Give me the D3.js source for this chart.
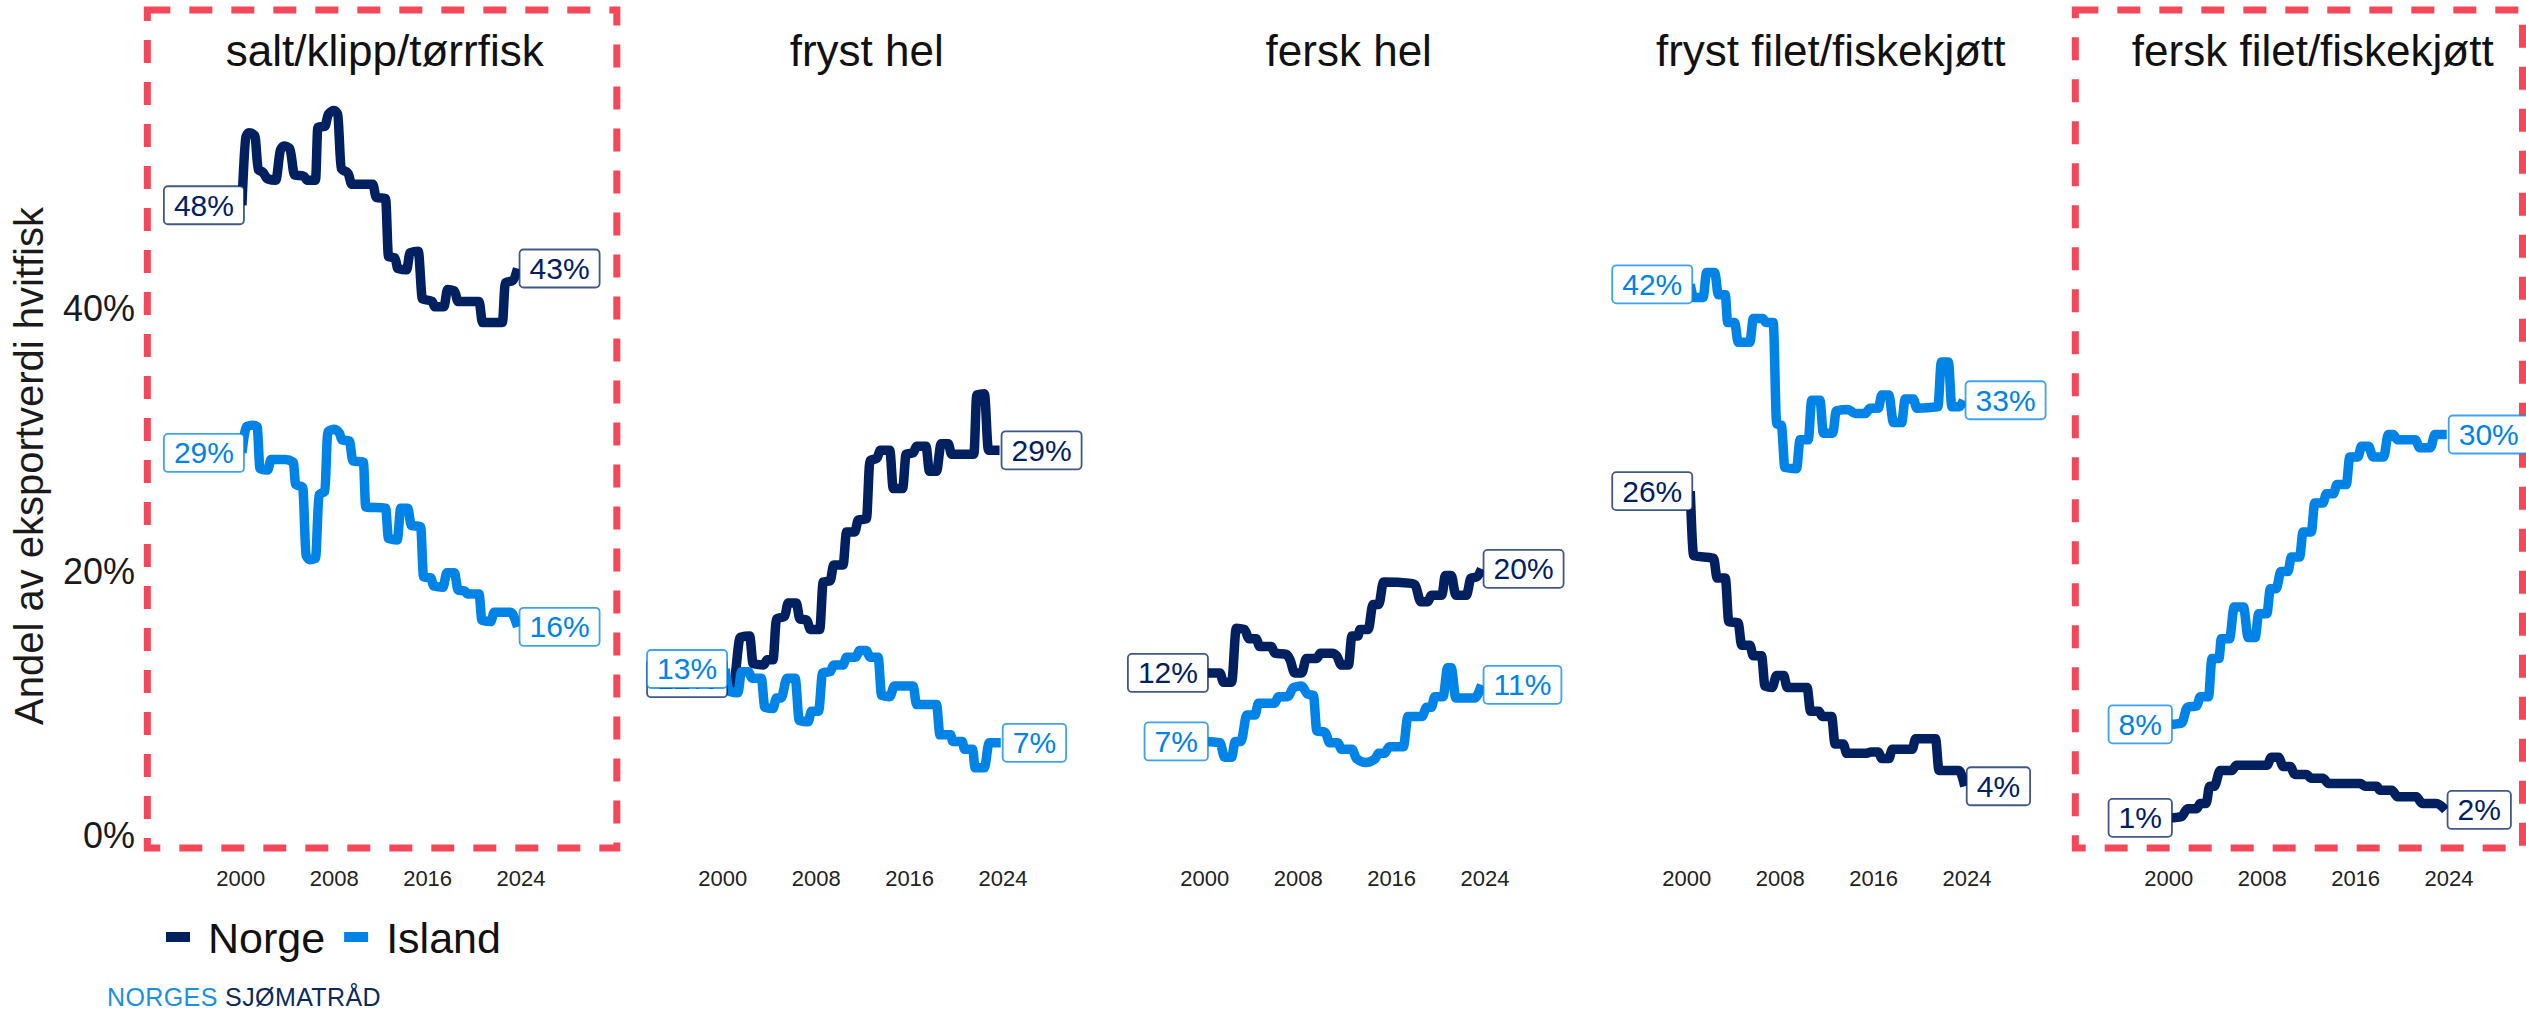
<!DOCTYPE html>
<html>
<head>
<meta charset="utf-8">
<script src="https://cdn.jsdelivr.net/npm/d3@7"></script>
<style>
  body { margin: 0; background: #ffffff; }
  svg { display: block; font-family: "Liberation Sans", Arial, "DejaVu Sans", sans-serif; }
</style>
</head>
<body>
<svg id="chart" width="2526" height="1012"></svg>
<script>
// ---------------- DATA ----------------
const panelTitles = ["salt/klipp/tørrfisk", "fryst hel", "fersk hel", "fryst filet/fiskekjøtt", "fersk filet/fiskekjøtt"];
const highlightedPanels = [true, false, false, false, true];
const seriesNames = ["Norge", "Island"];
const xTickYears = [2000, 2008, 2016, 2024];
const yTickValues = [0, 20, 40];
const yAxisTitle = "Andel av eksportverdi hvitfisk";

// [year, share %]
const saltNorge = [[2000.1,47.8],[2000.45,53.0],[2000.7,53.3],[2001.2,53.1],[2001.5,50.5],[2001.9,50.3],[2002.3,49.8],[2003.0,49.7],[2003.4,52.0],[2003.7,52.3],[2004.2,52.1],[2004.6,50.1],[2005.4,50.0],[2005.7,49.7],[2006.4,49.7],[2006.6,53.7],[2007.2,53.8],[2007.5,54.7],[2008.0,55.0],[2008.3,54.7],[2008.6,50.6],[2009.2,50.2],[2009.5,49.4],[2011.3,49.4],[2011.6,48.4],[2012.4,48.3],[2012.65,43.9],[2013.2,43.8],[2013.45,43.0],[2014.2,42.9],[2014.5,44.2],[2015.2,44.3],[2015.55,40.7],[2016.4,40.5],[2016.6,40.1],[2017.4,40.1],[2017.7,41.4],[2018.3,41.3],[2018.6,40.5],[2020.4,40.5],[2020.7,38.9],[2022.4,38.9],[2022.65,41.9],[2023.3,42.1],[2023.7,43.0]];
const saltIsland = [[2000.1,29.0],[2000.5,31.0],[2001.0,31.1],[2001.4,31.0],[2001.65,27.8],[2002.3,27.7],[2002.6,28.5],[2003.8,28.5],[2004.5,28.3],[2004.7,26.6],[2005.3,26.4],[2005.6,21.2],[2005.9,20.9],[2006.4,21.0],[2006.7,25.8],[2007.2,26.1],[2007.45,30.6],[2008.0,30.8],[2008.45,30.5],[2008.65,30.0],[2009.3,29.9],[2009.6,28.4],[2010.5,28.3],[2010.7,24.9],[2012.4,24.8],[2012.65,22.5],[2013.4,22.4],[2013.7,24.8],[2014.3,24.8],[2014.6,23.5],[2015.4,23.4],[2015.65,19.6],[2016.3,19.5],[2016.5,18.9],[2017.3,18.8],[2017.65,19.9],[2018.3,19.9],[2018.6,18.6],[2019.2,18.5],[2019.4,18.3],[2020.4,18.3],[2020.65,16.3],[2021.4,16.2],[2021.7,16.9],[2023.1,16.9],[2023.7,15.8]];

const frystHelNorge = [[2000.2,11.9],[2000.5,11.4],[2000.9,11.4],[2001.5,15.0],[2002.3,15.1],[2002.6,13.0],[2003.5,12.9],[2003.8,13.3],[2004.3,13.3],[2004.6,16.4],[2005.3,16.6],[2005.6,17.6],[2006.3,17.6],[2006.6,16.4],[2007.2,16.3],[2007.5,15.6],[2008.3,15.6],[2008.6,19.2],[2009.2,19.3],[2009.5,20.5],[2010.3,20.5],[2010.6,23.0],[2011.3,23.0],[2011.6,23.9],[2012.3,24.0],[2012.6,28.4],[2013.2,28.6],[2013.5,29.2],[2014.3,29.2],[2014.6,26.3],[2015.4,26.3],[2015.7,28.9],[2016.3,29.0],[2016.6,29.5],[2017.4,29.5],[2017.7,27.6],[2018.3,27.6],[2018.7,29.7],[2019.3,29.7],[2019.6,28.9],[2021.5,28.9],[2021.75,33.4],[2022.4,33.5],[2022.75,29.2],[2023.7,29.2]];
const frystHelIsland = [[2000.2,12.6],[2000.6,10.9],[2001.3,10.8],[2001.6,12.4],[2002.2,12.4],[2002.5,11.9],[2003.3,11.9],[2003.6,9.7],[2004.3,9.6],[2004.6,10.4],[2005.0,10.4],[2005.5,11.9],[2006.2,11.9],[2006.55,8.7],[2007.3,8.6],[2007.6,9.4],[2008.2,9.4],[2008.55,12.3],[2009.2,12.4],[2009.5,12.9],[2010.3,12.9],[2010.6,13.5],[2011.4,13.5],[2011.7,14.0],[2012.3,14.0],[2012.6,13.5],[2013.3,13.5],[2013.6,10.6],[2014.3,10.5],[2014.7,11.3],[2016.3,11.3],[2016.6,9.9],[2018.3,9.9],[2018.6,7.6],[2019.5,7.6],[2019.7,7.1],[2020.5,7.1],[2020.7,6.5],[2021.4,6.5],[2021.6,5.1],[2022.4,5.1],[2022.8,7.0],[2023.8,7.0]];

const ferskHelNorge = [[2000.1,12.3],[2001.3,12.3],[2001.6,11.6],[2002.3,11.6],[2002.7,15.7],[2003.4,15.6],[2003.8,14.9],[2004.4,14.9],[2004.7,14.3],[2005.7,14.3],[2006.0,13.8],[2007.0,13.7],[2007.3,13.3],[2007.7,12.3],[2008.3,12.3],[2008.7,13.4],[2009.6,13.4],[2009.9,13.8],[2010.9,13.8],[2011.3,13.6],[2011.7,12.9],[2012.3,12.9],[2012.6,15.1],[2013.1,15.1],[2013.3,15.6],[2014.0,15.6],[2014.4,17.5],[2014.9,17.5],[2015.3,19.2],[2017.7,19.1],[2018.0,19.0],[2018.5,17.7],[2019.1,17.7],[2019.4,18.2],[2020.3,18.2],[2020.6,19.7],[2021.1,19.7],[2021.5,18.2],[2022.4,18.2],[2022.8,19.5],[2023.3,19.6],[2023.7,20.2]];
const ferskHelIsland = [[2000.1,7.1],[2001.3,7.0],[2001.7,5.9],[2002.3,5.9],[2002.6,7.1],[2003.1,7.1],[2003.6,9.1],[2004.3,9.1],[2004.6,10.0],[2006.0,10.0],[2006.3,10.5],[2007.1,10.5],[2007.6,11.2],[2008.3,11.3],[2008.8,10.7],[2009.3,10.6],[2009.6,7.9],[2010.3,7.8],[2010.7,7.0],[2011.4,7.0],[2011.7,6.5],[2012.6,6.5],[2013.0,5.8],[2013.8,5.5],[2014.6,5.8],[2014.9,6.2],[2015.4,6.2],[2015.8,6.7],[2017.0,6.7],[2017.4,9.0],[2018.6,9.0],[2019.0,9.7],[2019.4,9.7],[2019.7,10.5],[2020.4,10.5],[2020.8,12.7],[2021.1,12.7],[2021.5,10.4],[2023.1,10.4],[2023.7,11.4]];

const frystFiletNorge = [[2000.3,26.1],[2000.6,21.2],[2002.3,21.0],[2002.6,19.5],[2003.3,19.5],[2003.6,16.2],[2004.4,16.1],[2004.7,14.4],[2005.4,14.4],[2005.7,13.6],[2006.4,13.6],[2006.7,11.3],[2007.3,11.2],[2007.7,12.1],[2008.3,12.1],[2008.6,11.2],[2010.3,11.2],[2010.6,9.4],[2011.3,9.4],[2011.6,9.0],[2012.4,9.0],[2012.7,6.9],[2013.4,6.9],[2013.7,6.2],[2015.3,6.2],[2015.8,6.3],[2016.4,6.3],[2016.7,5.8],[2017.3,5.8],[2017.6,6.5],[2019.3,6.5],[2019.6,7.3],[2021.3,7.3],[2021.6,4.9],[2023.3,4.9],[2023.8,3.7]];
const frystFiletIsland = [[2000.3,41.8],[2000.6,40.8],[2001.4,40.8],[2001.7,42.7],[2002.4,42.7],[2002.7,41.0],[2003.3,41.0],[2003.5,38.9],[2004.1,38.9],[2004.4,37.4],[2005.4,37.4],[2005.7,39.2],[2006.5,39.2],[2006.8,38.9],[2007.4,38.9],[2007.7,31.2],[2008.1,31.1],[2008.4,27.9],[2009.4,27.8],[2009.7,30.0],[2010.4,30.0],[2010.7,33.0],[2011.4,33.0],[2011.7,30.5],[2012.5,30.5],[2012.8,32.2],[2013.8,32.3],[2014.4,32.0],[2015.3,32.0],[2015.7,32.4],[2016.4,32.4],[2016.7,33.4],[2017.3,33.4],[2017.7,31.3],[2018.4,31.3],[2018.7,33.1],[2019.4,33.1],[2019.7,32.4],[2021.5,32.5],[2021.8,35.9],[2022.4,35.9],[2022.7,32.5],[2023.3,32.5],[2023.7,33.0]];

const ferskFiletNorge = [[2000.1,1.3],[2001.1,1.4],[2001.6,2.0],[2002.4,2.0],[2002.7,2.4],[2003.2,2.4],[2003.5,3.7],[2003.9,3.7],[2004.4,4.9],[2005.4,4.9],[2005.8,5.3],[2008.4,5.3],[2008.8,5.9],[2009.4,5.9],[2009.8,5.2],[2010.4,5.2],[2010.8,4.6],[2011.8,4.6],[2012.2,4.3],[2013.2,4.3],[2013.7,3.9],[2016.4,3.9],[2016.8,3.7],[2017.8,3.7],[2018.1,3.4],[2019.1,3.4],[2019.6,2.9],[2021.2,2.9],[2021.7,2.4],[2022.9,2.4],[2023.7,1.9]];
const ferskFiletIsland = [[2000.1,8.4],[2001.1,8.5],[2001.6,9.7],[2002.4,9.8],[2002.7,10.5],[2003.4,10.5],[2003.7,13.4],[2004.3,13.4],[2004.5,14.9],[2005.2,14.9],[2005.6,17.3],[2006.4,17.3],[2006.8,15.0],[2007.4,15.0],[2007.7,16.8],[2008.4,16.8],[2008.7,18.7],[2009.2,18.7],[2009.6,20.0],[2010.2,20.0],[2010.5,21.1],[2011.2,21.1],[2011.5,23.0],[2012.2,23.0],[2012.5,25.2],[2013.2,25.2],[2013.5,25.9],[2014.1,25.9],[2014.4,26.6],[2015.2,26.6],[2015.5,28.7],[2016.2,28.7],[2016.5,29.5],[2017.1,29.5],[2017.5,28.7],[2018.4,28.7],[2018.8,30.4],[2019.2,30.4],[2019.6,30.0],[2021.1,30.0],[2021.5,29.4],[2022.4,29.4],[2022.8,30.4],[2023.8,30.4]];

const norgeSeries = [saltNorge, frystHelNorge, ferskHelNorge, frystFiletNorge, ferskFiletNorge];
const islandSeries = [saltIsland, frystHelIsland, ferskHelIsland, frystFiletIsland, ferskFiletIsland];

// ---------------- DRAWING ----------------
const W = 2526, H = 1012;
const colors = { Norge: "#00205F", Island: "#0083E6" };
const highlightColor = "#F4475A";

const svg = d3.select("#chart");
svg.append("rect").attr("width", W).attr("height", H).attr("fill", "#ffffff");

const y = d3.scaleLinear().domain([0, 40]).range([835, 308]);
const panelLeft0 = 145, panelStep = 482, panelWidth = 480;
const xFor = i => d3.scaleLinear().domain([1991.8, 2032.9]).range([panelLeft0 + panelStep * i, panelLeft0 + panelStep * i + panelWidth]);

// y axis title
svg.append("text")
  .attr("transform", "translate(43,466) rotate(-90)")
  .attr("text-anchor", "middle")
  .attr("font-size", 40)
  .attr("fill", "#1a1a1a")
  .text(yAxisTitle);

// y ticks
svg.append("g").selectAll("text").data(yTickValues).join("text")
  .attr("x", 135).attr("y", d => y(d)).attr("dy", "0.35em")
  .attr("text-anchor", "end").attr("font-size", 36).attr("fill", "#1a1a1a")
  .text(d => d + "%");

const line = x => d3.line().x(d => x(d[0])).y(d => y(d[1])).curve(d3.curveMonotoneX);

panelTitles.forEach((title, i) => {
  const x = xFor(i);
  const g = svg.append("g");

  // title
  g.append("text").attr("x", x(2012.33)).attr("y", 66)
    .attr("text-anchor", "middle").attr("font-size", 44).attr("fill", "#111")
    .text(title);

  // x ticks
  g.selectAll("text.xt").data(xTickYears).join("text").attr("class", "xt")
    .attr("x", d => x(d)).attr("y", 878).attr("dy", "0.35em")
    .attr("text-anchor", "middle").attr("font-size", 22).attr("fill", "#222")
    .text(d => d);

  // lines
  [["Norge", norgeSeries[i]], ["Island", islandSeries[i]]].forEach(([name, data]) => {
    g.append("path").datum(data)
      .attr("d", line(x))
      .attr("fill", "none")
      .attr("stroke", colors[name])
      .attr("stroke-width", 9.5)
      .attr("stroke-linejoin", "round")
      .attr("stroke-linecap", "butt");
  });

  // highlight box
  if (highlightedPanels[i]) {
    const x0 = x(1992);
    const x1 = Math.min(x(2032.2), W - 3.5);
    svg.append("rect")
      .attr("x", x0).attr("y", 10).attr("width", x1 - x0).attr("height", 838)
      .attr("fill", "none").attr("stroke", highlightColor)
      .attr("stroke-width", 7).attr("stroke-dasharray", "23 19");
  }
});

// end labels (Norge first, Island on top)
const labelsG = svg.append("g");
["Norge", "Island"].forEach(name => {
  const all = name === "Norge" ? norgeSeries : islandSeries;
  all.forEach((data, i) => {
    const x = xFor(i);
    const first = data[0], last = data[data.length - 1];
    [[first, "left"], [last, "right"]].forEach(([pt, side]) => {
      const lg = labelsG.append("g");
      const t = lg.append("text")
        .attr("font-size", 30).attr("fill", colors[name])
        .attr("text-anchor", "middle").attr("dy", "0.35em")
        .text(Math.round(pt[1]) + "%");
      const tw = t.node().getComputedTextLength();
      const bw = tw + 20, bh = 38;
      const cy = y(pt[1]);
      const bx = side === "left" ? x(pt[0]) + 2 - bw : x(pt[0]) + 2;
      lg.insert("rect", "text")
        .attr("x", bx).attr("y", cy - bh / 2).attr("width", bw).attr("height", bh)
        .attr("rx", 4).attr("fill", "#ffffff")
        .attr("stroke", colors[name]).attr("stroke-opacity", 0.75).attr("stroke-width", 1.8);
      t.attr("x", bx + bw / 2).attr("y", cy);
    });
  });
});

// legend
const legend = svg.append("g");
let lx = 166;
seriesNames.forEach(name => {
  legend.append("rect").attr("x", lx).attr("y", 932).attr("width", 24).attr("height", 10).attr("fill", colors[name]);
  const t = legend.append("text").attr("x", lx + 42).attr("y", 953)
    .attr("font-size", 43).attr("fill", "#111").text(name);
  lx = lx + 42 + t.node().getComputedTextLength() + 19;
});

// logo
const logo = svg.append("text").attr("x", 107).attr("y", 1006)
  .attr("font-size", 25).attr("letter-spacing", 0.4);
logo.append("tspan").attr("fill", "#1A8FE3").text("NORGES");
logo.append("tspan").attr("fill", "#0B2A5B").text(" SJØMATRÅD");
</script>
</body>
</html>
